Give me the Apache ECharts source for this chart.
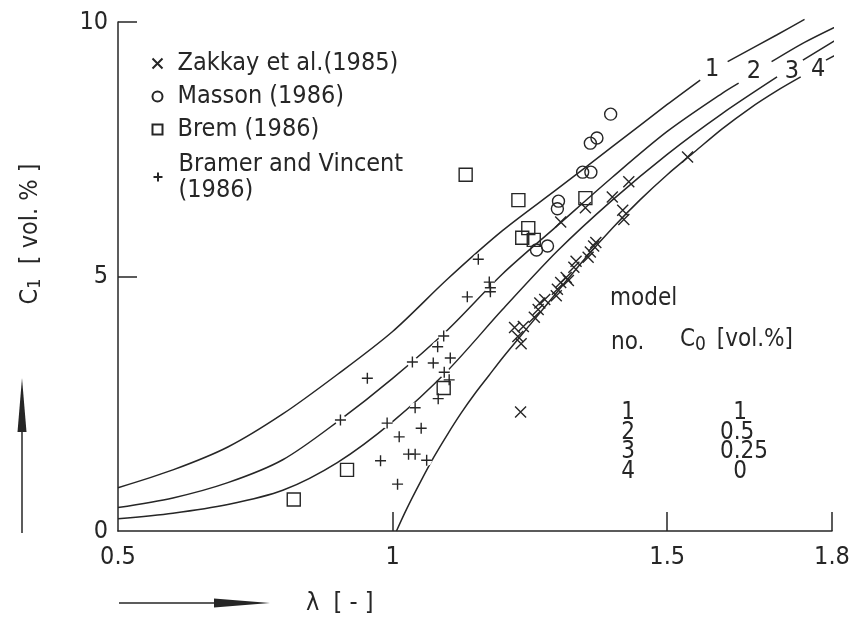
<!DOCTYPE html>
<html>
<head>
<meta charset="utf-8">
<script src="https://cdn.jsdelivr.net/npm/echarts@6/dist/echarts.min.js"></script>
<style>
  html, body { margin: 0; padding: 0; background: #fff; }
  #chart { width: 853px; height: 618px; }
</style>
</head>
<body>
<div id="chart"></div>
<script>
const FONT = "'DejaVu Sans Condensed','Liberation Sans Narrow','DejaVu Sans',sans-serif";
const INK = '#262626';

// axis tick labels
const xTickLabels = [0.5, 1, 1.5, 1.8];
const xTickMarks = [1, 1.5, 1.8];
const yTickLabels = [0, 5, 10];
const yTickMarks = [5, 10];

// model curves C1 versus lambda; GAP breaks each curve where its number is written
const GAP = ['-', '-'];
const model1 = [[0.5, 0.85], [0.6, 1.2], [0.7, 1.65], [0.8, 2.3], [0.9, 3.08], [1.0, 3.92], [1.1, 4.95],
  [1.2, 5.9], [1.3, 6.72], [1.4, 7.55], [1.5, 8.38], [1.56, 8.86], GAP, [1.61, 9.22], [1.7, 9.75], [1.75, 10.05]];
const model2 = [[0.5, 0.46], [0.6, 0.65], [0.7, 0.95], [0.8, 1.4], [0.9, 2.15], [1.0, 3.0], [1.1, 3.95],
  [1.2, 5.05], [1.3, 6.0], [1.4, 6.95], [1.5, 7.85], [1.6, 8.6], [1.63, 8.8], GAP, [1.69, 9.22], [1.75, 9.6], [1.815, 9.95]];
const model3 = [[0.5, 0.24], [0.6, 0.35], [0.7, 0.52], [0.8, 0.8], [0.9, 1.35], [1.0, 2.15], [1.1, 3.15],
  [1.2, 4.35], [1.3, 5.5], [1.4, 6.5], [1.5, 7.4], [1.6, 8.2], [1.7, 8.92], GAP, [1.747, 9.25], [1.815, 9.7]];
const model4 = [[1.007, 0], [1.025, 0.42], [1.05, 0.95], [1.075, 1.45], [1.1, 1.9], [1.125, 2.32], [1.15, 2.7],
  [1.175, 3.05], [1.2, 3.4], [1.25, 4.05], [1.3, 4.7], [1.35, 5.35], [1.4, 5.95], [1.45, 6.5], [1.5, 7.0],
  [1.55, 7.45], [1.6, 7.9], [1.65, 8.3], [1.7, 8.65], [1.743, 8.92], GAP, [1.789, 9.25], [1.815, 9.4]];
const modelCurves = [model1, model2, model3, model4];

// curve numbers, placed in the breaks
const curveNumbers = [['1', 1.582, 9.06], ['2', 1.658, 9.02], ['3', 1.727, 9.02], ['4', 1.775, 9.06]];

// measurements
const zakkay = [[1.233, 2.34], [1.222, 4.0], [1.238, 4.02], [1.228, 3.82], [1.234, 3.68], [1.258, 4.2],
  [1.265, 4.35], [1.268, 4.48], [1.277, 4.55], [1.298, 4.62], [1.300, 4.75], [1.306, 4.88], [1.316, 4.98],
  [1.320, 4.92], [1.330, 5.18], [1.334, 5.3], [1.356, 5.38], [1.360, 5.48], [1.366, 5.6], [1.370, 5.67],
  [1.306, 6.07], [1.351, 6.35], [1.400, 6.56], [1.419, 6.3], [1.421, 6.12], [1.430, 6.86], [1.537, 7.35]];
const masson = [[1.262, 5.52], [1.282, 5.60], [1.300, 6.33], [1.302, 6.48], [1.346, 7.05], [1.361, 7.05],
  [1.360, 7.62], [1.372, 7.72], [1.397, 8.19]];
const brem = [[0.82, 0.62], [0.917, 1.2], [1.093, 2.81], [1.133, 7.0], [1.229, 6.5], [1.247, 5.95],
  [1.236, 5.76], [1.257, 5.72], [1.351, 6.54]];
const bramer = [[0.905, 2.18], [0.954, 3.0], [0.978, 1.38], [0.99, 2.12], [1.009, 0.92], [1.012, 1.85],
  [1.029, 1.51], [1.041, 1.51], [1.036, 3.32], [1.041, 2.42], [1.052, 2.02], [1.062, 1.39], [1.074, 3.3],
  [1.082, 3.62], [1.083, 2.6], [1.093, 3.83], [1.094, 3.12], [1.103, 2.97], [1.105, 3.4], [1.136, 4.6],
  [1.156, 5.34], [1.176, 4.89], [1.178, 4.78], [1.178, 4.70]];

const seriesNames = ['Zakkay et al.(1985)', 'Masson (1986)', 'Brem (1986)', 'Bramer and Vincent\n(1986)'];

// model table
const tableNo = ['1', '2', '3', '4'];
const tableC0 = ['1', '0.5', '0.25', '0'];

const CROSS = 'path://M0,0L10,10M10,0L0,10';
const PLUS = 'path://M5,0L5,10M0,5L10,5';
const openStyle = { color: 'none', borderColor: INK, borderWidth: 1.4, opacity: 1 };

const chart = echarts.init(document.getElementById('chart'), null, { renderer: 'canvas' });

const txt = (size, extra) => Object.assign({ fontSize: size, fontFamily: FONT, color: INK }, extra || {});
const gtxt = (size, extra) => Object.assign({ fontSize: size, fontFamily: FONT, fill: INK }, extra || {});

const series = [];
modelCurves.forEach((c, i) => {
  series.push({
    name: 'model ' + (i + 1), type: 'line', data: c, smooth: 0.3, symbol: 'none', clip: false,
    connectNulls: false, lineStyle: { color: INK, width: 1.5 }, silent: true, z: 2
  });
});
series.push({
  name: 'curve numbers', type: 'scatter', symbol: 'circle', symbolSize: 1, clip: false, silent: true,
  itemStyle: { color: 'rgba(0,0,0,0)', opacity: 1 },
  data: curveNumbers.map(d => ({ value: [d[1], d[2]], name: d[0] })),
  label: { show: true, position: 'inside', formatter: p => p.name, fontSize: 25, fontFamily: FONT,
    color: INK, opacity: 1, textBorderWidth: 0 }
});
// the curves are interrupted where a '+' sits on them
series.push({
  name: 'line breaks', type: 'scatter', data: bramer, symbol: 'circle', symbolSize: 11, silent: true,
  itemStyle: { color: '#fff', opacity: 1 }, z: 2.5
});
series.push({ name: seriesNames[0], type: 'scatter', data: zakkay, symbol: CROSS, symbolSize: 11, itemStyle: openStyle, z: 3 });
series.push({ name: seriesNames[1], type: 'scatter', data: masson, symbol: 'circle', symbolSize: 12, itemStyle: openStyle, z: 3 });
series.push({ name: seriesNames[2], type: 'scatter', data: brem, symbol: 'rect', symbolSize: 13, itemStyle: openStyle, z: 3 });
series.push({ name: seriesNames[3], type: 'scatter', data: bramer, symbol: PLUS, symbolSize: 11, itemStyle: openStyle, z: 3 });

const graphic = [
  // y-axis title and arrow
  { type: 'text', x: 30, y: 234, rotation: Math.PI / 2,
    style: gtxt(25, { text: '{c|C}{s|1}  [ vol. % ]', align: 'center', verticalAlign: 'middle',
      rich: { c: gtxt(25), s: gtxt(18, { padding: [10, 0, 0, 0] }) } }) },
  { type: 'line', shape: { x1: 22, y1: 533, x2: 22, y2: 425 }, style: { stroke: INK, lineWidth: 1.5 } },
  { type: 'polygon', shape: { points: [[22, 378], [26.5, 432], [17.5, 432]] }, style: { fill: INK } },
  // x-axis title and arrow
  { type: 'line', shape: { x1: 119, y1: 603, x2: 232, y2: 603 }, style: { stroke: INK, lineWidth: 1.5 } },
  { type: 'polygon', shape: { points: [[270, 603], [214, 598.5], [214, 607.5]] }, style: { fill: INK } },
  { type: 'text', x: 306, y: 603, style: gtxt(25, { text: 'λ  [ - ]', align: 'left', verticalAlign: 'middle' }) },
  // model table
  { type: 'text', x: 610, y: 299, style: gtxt(24, { text: 'model', verticalAlign: 'middle' }) },
  { type: 'text', x: 611, y: 343, style: gtxt(24, { text: 'no.', verticalAlign: 'middle' }) },
  { type: 'text', x: 680, y: 340, style: gtxt(24, { text: '{c|C}{s|0} [vol.%]', verticalAlign: 'middle',
      rich: { c: gtxt(24), s: gtxt(19, { padding: [11, 4, 0, 0] }) } }) }
];
const rowY = [413, 433, 452, 472];
tableNo.forEach((t, i) => {
  graphic.push({ type: 'text', x: 628, y: rowY[i], style: gtxt(24, { text: t, align: 'center', verticalAlign: 'middle' }) });
  const c0 = tableC0[i];
  const leftAligned = c0.indexOf('.') >= 0;
  graphic.push({ type: 'text', x: leftAligned ? 720 : 740, y: rowY[i],
    style: gtxt(24, { text: c0, align: leftAligned ? 'left' : 'center', verticalAlign: 'middle' }) });
});

chart.setOption({
  animation: false,
  backgroundColor: '#fff',
  grid: { left: 118, right: 21, top: 22, bottom: 87 },
  xAxis: {
    type: 'value', min: 0.5, max: 1.8,
    axisLine: { show: true, lineStyle: { color: INK, width: 1.5 } },
    splitLine: { show: false },
    axisTick: { show: true, inside: true, length: 19, customValues: xTickMarks, lineStyle: { color: INK, width: 1.5 } },
    axisLabel: { customValues: xTickLabels, formatter: v => String(v), margin: 14, fontSize: 25, fontFamily: FONT, color: INK }
  },
  yAxis: {
    type: 'value', min: 0, max: 10, interval: 5,
    axisLine: { show: true, lineStyle: { color: INK, width: 1.5 } },
    splitLine: { show: false },
    axisTick: { show: true, inside: true, length: 19, customValues: yTickMarks, lineStyle: { color: INK, width: 1.5 } },
    axisLabel: { customValues: yTickLabels, formatter: v => String(v), margin: 10, fontSize: 25, fontFamily: FONT, color: INK }
  },
  legend: [
    { data: seriesNames.slice(0, 3), orient: 'vertical', left: 150, top: 49, padding: 0, itemGap: 4,
      itemWidth: 10, itemHeight: 10, selectedMode: false, textStyle: txt(25, { lineHeight: 29, padding: [0, 0, 0, 10] }) },
    { data: [seriesNames[3]], orient: 'vertical', left: 151, top: 138, padding: 0,
      itemWidth: 9, itemHeight: 9, selectedMode: false, textStyle: txt(25, { lineHeight: 26, padding: [26, 0, 0, 11] }) }
  ],
  graphic: graphic,
  series: series
});
</script>
</body>
</html>
